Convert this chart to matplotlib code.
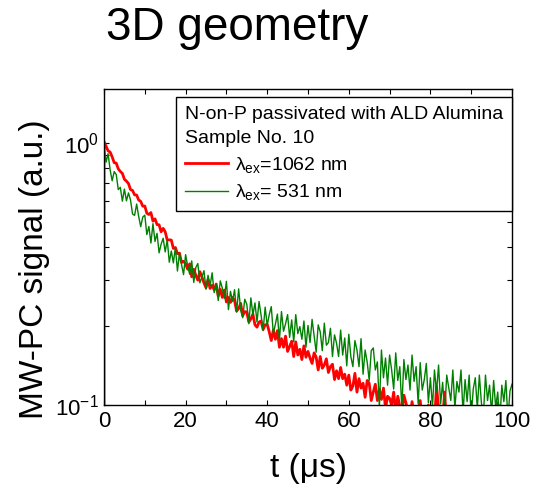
import numpy as np
import matplotlib
matplotlib.use('Agg')
import matplotlib.pyplot as plt
from matplotlib.ticker import NullFormatter, LogLocator

plt.rcParams['font.family'] = ['Liberation Sans', 'DejaVu Sans']
plt.rcParams['mathtext.fontset'] = 'custom'
plt.rcParams['mathtext.rm'] = 'Liberation Sans'
plt.rcParams['mathtext.it'] = 'Liberation Sans:italic'

# time grid of the transient recorder (us)
t_start = 0.0
t_step = 0.5
pre_trigger = 0.01   # signal before the laser pulse (below the axis)

# 1062 nm excitation, every 0.5 us
red_vals = [
    1.01, 0.969, 0.930, 0.920, 0.882, 0.838, 0.835, 0.794, 0.776, 0.763,
    0.725, 0.713, 0.698, 0.662, 0.657, 0.632, 0.631, 0.604, 0.597, 0.572,
    0.573, 0.538, 0.532, 0.541, 0.502, 0.512, 0.487, 0.486, 0.457, 0.471,
    0.457, 0.425, 0.426, 0.425, 0.395, 0.398, 0.377, 0.379, 0.349, 0.353,
    0.345, 0.329, 0.345, 0.308, 0.329, 0.312, 0.299, 0.322, 0.308, 0.292,
    0.280, 0.301, 0.278, 0.286, 0.275, 0.289, 0.260, 0.276, 0.257, 0.274,
    0.247, 0.257, 0.246, 0.257, 0.250, 0.228, 0.233, 0.244, 0.219, 0.227,
    0.226, 0.207, 0.213, 0.222, 0.202, 0.198, 0.207, 0.209, 0.194, 0.202,
    0.203, 0.190, 0.176, 0.193, 0.178, 0.192, 0.166, 0.179, 0.166, 0.183,
    0.160, 0.167, 0.175, 0.153, 0.174, 0.155, 0.163, 0.149, 0.168, 0.152,
    0.160, 0.151, 0.144, 0.158, 0.152, 0.136, 0.153, 0.138, 0.142, 0.150,
    0.133, 0.140, 0.143, 0.125, 0.135, 0.126, 0.139, 0.126, 0.131, 0.119,
    0.130, 0.114, 0.118, 0.132, 0.112, 0.126, 0.116, 0.121, 0.107, 0.124,
    0.121, 0.104, 0.112, 0.120, 0.104, 0.115, 0.105, 0.116, 0.097, 0.108,
    0.106, 0.100, 0.112, 0.094, 0.108, 0.099, 0.093, 0.109, 0.102, 0.095,
    0.089, 0.103, 0.092, 0.098, 0.093, 0.104, 0.087, 0.098, 0.088, 0.100,
    0.082, 0.093, 0.086, 0.118, 0.098, 0.081, 0.088, 0.112, 0.081, 0.092,
    0.094, 0.079, 0.087, 0.099, 0.082, 0.079, 0.091, 0.096, 0.083, 0.092,
    0.094, 0.086, 0.076, 0.091, 0.081, 0.093, 0.074, 0.086, 0.076, 0.091,
    0.074, 0.081, 0.089, 0.102, 0.091, 0.075, 0.084, 0.073, 0.090, 0.077, 0.085,
]

# 531 nm excitation
green_vals = [
    0.973, 0.842, 0.907, 0.787, 0.715, 0.775, 0.755, 0.662, 0.675, 0.598,
    0.665, 0.600, 0.643, 0.604, 0.534, 0.528, 0.583, 0.523, 0.478, 0.520,
    0.529, 0.446, 0.479, 0.414, 0.491, 0.420, 0.451, 0.380, 0.410, 0.432,
    0.383, 0.426, 0.350, 0.386, 0.348, 0.398, 0.324, 0.380, 0.343, 0.314,
    0.374, 0.339, 0.315, 0.354, 0.293, 0.334, 0.346, 0.292, 0.307, 0.325,
    0.276, 0.312, 0.284, 0.319, 0.268, 0.288, 0.250, 0.297, 0.279, 0.255,
    0.296, 0.231, 0.271, 0.248, 0.275, 0.226, 0.277, 0.230, 0.215, 0.253,
    0.242, 0.204, 0.256, 0.220, 0.245, 0.207, 0.248, 0.220, 0.192, 0.236,
    0.201, 0.221, 0.237, 0.187, 0.203, 0.222, 0.177, 0.227, 0.191, 0.204,
    0.221, 0.181, 0.211, 0.174, 0.221, 0.187, 0.199, 0.178, 0.209, 0.166,
    0.201, 0.173, 0.212, 0.183, 0.159, 0.202, 0.190, 0.161, 0.205, 0.169,
    0.173, 0.196, 0.153, 0.185, 0.172, 0.153, 0.193, 0.155, 0.180, 0.141,
    0.186, 0.153, 0.140, 0.176, 0.162, 0.140, 0.179, 0.131, 0.162, 0.146,
    0.124, 0.161, 0.165, 0.136, 0.146, 0.098, 0.162, 0.127, 0.151, 0.119,
    0.155, 0.136, 0.115, 0.158, 0.124, 0.140, 0.097, 0.149, 0.125, 0.142,
    0.114, 0.155, 0.123, 0.140, 0.101, 0.145, 0.114, 0.125, 0.144, 0.102,
    0.127, 0.098, 0.136, 0.112, 0.142, 0.101, 0.122, 0.094, 0.130, 0.116,
    0.104, 0.136, 0.097, 0.123, 0.112, 0.136, 0.093, 0.125, 0.103, 0.130,
    0.090, 0.115, 0.127, 0.097, 0.130, 0.102, 0.092, 0.130, 0.104, 0.119,
    0.093, 0.124, 0.098, 0.112, 0.085, 0.119, 0.103, 0.124, 0.088, 0.113, 0.120,
]

legend_title = 'N-on-P passivated with ALD Alumina\nSample No. 10'
red_label = r'$\mathregular{\lambda_{ex}}$=1062 nm'
green_label = r'$\mathregular{\lambda_{ex}}$= 531 nm'

t_red = np.concatenate([[t_start], t_start + t_step * np.arange(len(red_vals))])
y_red = np.concatenate([[pre_trigger], red_vals])
t_green = np.concatenate([[t_start], t_start + t_step * np.arange(len(green_vals))])
y_green = np.concatenate([[pre_trigger], green_vals])

fig = plt.figure(figsize=(5.39, 4.93), dpi=100)
ax = fig.add_axes([104/539, 1 - 405/493, 408/539, 316/493])

ax.plot(t_red, y_red, color='#ff0000', lw=2.0, label=red_label)
ax.plot(t_green, y_green, color='#008000', lw=1.0, label=green_label)

ax.set_yscale('log')
ax.set_xlim(0, 100)
ax.set_ylim(0.1, 1.6)
ax.set_xticks([0, 20, 40, 60, 80, 100])
ax.set_xticks([10, 30, 50, 70, 90], minor=True)
ax.yaxis.set_major_locator(LogLocator(base=10))
ax.yaxis.set_minor_locator(LogLocator(base=10, subs=np.arange(2, 10)))
ax.yaxis.set_minor_formatter(NullFormatter())

ax.tick_params(which='both', direction='in', top=True, right=True,
               length=3.6, width=0.8, labelsize=16)
ax.tick_params(axis='x', pad=4)
ax.tick_params(axis='y', pad=3.5)
for s in ax.spines.values():
    s.set_linewidth(1.0)

ax.set_xlabel(u't (\u03bcs)', fontsize=24)
ax.xaxis.set_label_coords(0.5, -0.152)
ax.set_ylabel('MW-PC signal (a.u.)', fontsize=24)
ax.yaxis.set_label_coords(-0.132, 0.43)

leg = ax.legend(title=legend_title, loc='upper right', bbox_to_anchor=(1.0, 1 - 8/316),
                borderaxespad=0, fontsize=14, title_fontsize=14, alignment='left',
                frameon=True, fancybox=False, framealpha=1, edgecolor='black',
                handlelength=2.2, handletextpad=0.35, labelspacing=0.4,
                borderpad=0.45)
leg.get_frame().set_linewidth(1.0)
leg.get_title().set_linespacing(1.55)

fig.text(237/539, 1 - 40/493, '3D geometry', fontsize=33, ha='center', va='baseline')

fig.savefig('out.png', dpi=100)
